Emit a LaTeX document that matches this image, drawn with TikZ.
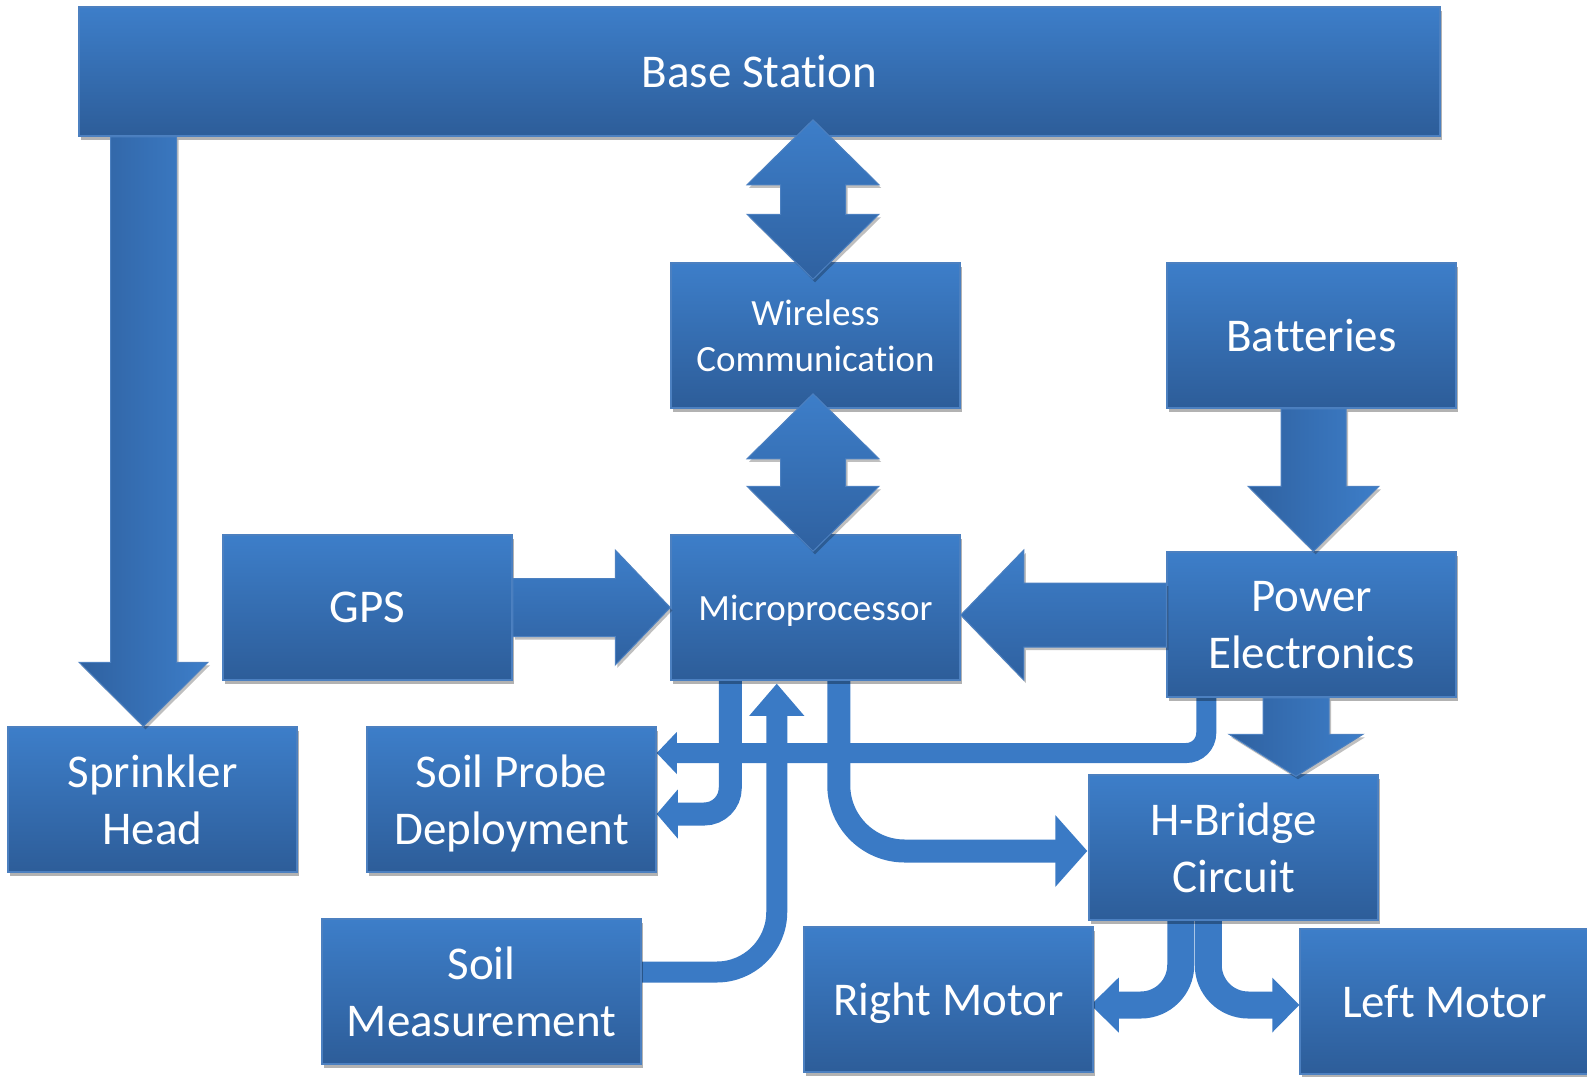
\documentclass[tikz,border=0pt]{standalone}
\usepackage{fontspec}
\setmainfont{Carlito}[Ligatures=NoCommon]
\usetikzlibrary{calc,shadows}
\pgfdeclarelayer{bg}
\pgfsetlayers{bg,main}
\definecolor{boxtop}{RGB}{61,126,201}
\definecolor{boxbot}{RGB}{45,93,153}
\definecolor{boxline}{RGB}{76,128,192}
\definecolor{arrlight}{RGB}{61,126,201}
\definecolor{arrdark}{RGB}{47,97,160}
\definecolor{bentc}{RGB}{58,122,197}
\tikzset{
  blk/.style={rectangle, draw=boxline, line width=1.5pt, top color=boxtop, bottom color=boxbot,
    text=white, align=center, inner sep=0pt, minimum width=289pt, minimum height=145pt,
    font=\fontsize{47}{57}\selectfont, text depth=0pt,
    drop shadow={shadow xshift=2pt, shadow yshift=-4pt, opacity=0.3, fill=black}},
  blksmall/.style={blk, font=\fontsize{37}{45.5}\selectfont},
  arrV/.style={draw=boxline, line width=1pt, left color=arrdark, right color=arrlight,
    drop shadow={shadow xshift=2pt, shadow yshift=-3pt, opacity=0.25, fill=black}},
  arrH/.style={draw=boxline, line width=1pt, top color=arrlight, bottom color=arrdark,
    drop shadow={shadow xshift=2pt, shadow yshift=-3pt, opacity=0.25, fill=black}},
  bent/.style={draw=bentc, line cap=butt},
}
% #1 style, #2 start, #3 tip, #4 half shaft, #5 half head, #6 head length
\newcommand\BlockArrow[6]{%
  \coordinate (BAh) at ($(#3)!#6!(#2)$);
  \path[#1] ($(#2)!#4!90:(#3)$) -- ($(BAh)!#4!90:(#3)$) -- ($(BAh)!#5!90:(#3)$) -- (#3)
    -- ($(BAh)!#5!-90:(#3)$) -- ($(BAh)!#4!-90:(#3)$) -- ($(#2)!#4!-90:(#3)$) -- cycle;}
% #1 style, #2 tip one, #3 tip two, #4 half shaft, #5 half head, #6 head length
\newcommand\DoubleArrow[6]{%
  \coordinate (DAa) at ($(#2)!#6!(#3)$);
  \coordinate (DAb) at ($(#3)!#6!(#2)$);
  \path[#1] (#2) -- ($(DAa)!#5!90:(#3)$) -- ($(DAa)!#4!90:(#3)$) -- ($(DAb)!#4!90:(#3)$)
    -- ($(DAb)!#5!90:(#3)$) -- (#3) -- ($(DAb)!#5!-90:(#3)$) -- ($(DAb)!#4!-90:(#3)$)
    -- ($(DAa)!#4!-90:(#3)$) -- ($(DAa)!#5!-90:(#3)$) -- cycle;}
% #1 tip, #2 head base centre, #3 half width
\newcommand\BentHead[3]{%
  \fill[bentc] ($(#2)!#3!90:(#1)$) -- (#1) -- ($(#2)!#3!-90:(#1)$) -- cycle;}
\begin{document}
\begin{tikzpicture}[x=1pt,y=-1pt]
\useasboundingbox (0,0) rectangle (1587,1076);
% boxes
\node[blk, minimum width=1361pt, minimum height=129pt] (base) at (759.5,71.5) {Base Station};
\node[blk] (sprinkler) at (152.5,799.5) {Sprinkler\\Head};
\node[blksmall] (wireless) at (815.5,335.5) {Wireless\\Communication};
\node[blk] (batteries) at (1311.5,335.5) {Batteries};
\node[blk] (gps) at (367.5,607.5) {GPS};
\node[blksmall] (micro) at (815.5,607.5) {Microprocessor};
\node[blk] (power) at (1311.5,624.5) {Power\\Electronics};
\node[blk] (soilprobe) at (511.5,799.5) {Soil Probe\\Deployment};
\node[blk] (hbridge) at (1233.5,847.5) {H-Bridge\\Circuit};
\node[blk, minimum width=319pt] (soilmeas) at (481.5,991.5) {Soil\\Measurement};
\node[blk] (rightmotor) at (948.5,999.5) {Right Motor};
\node[blk] (leftmotor) at (1444.5,1001.5) {Left Motor};
% block arrows
\coordinate (a1t) at ($(sprinkler.north)+(-9,0)$);
\coordinate (a1s) at (a1t |- base.south);
\BlockArrow{arrV}{a1s}{a1t}{33pt}{64.5pt}{64pt}
\coordinate (a2a) at ($(wireless.north |- base.south)+(-2.5,-17)$);
\coordinate (a2b) at ($(wireless.north)+(-2.5,17)$);
\DoubleArrow{arrH}{a2a}{a2b}{32.5pt}{66pt}{65pt}
\coordinate (a3a) at ($(wireless.south)+(-2.5,-15)$);
\coordinate (a3b) at ($(micro.north)+(-2.5,17)$);
\DoubleArrow{arrH}{a3a}{a3b}{32.5pt}{66pt}{65pt}
\BlockArrow{arrH}{gps.east}{micro.west}{29pt}{57.5pt}{55pt}
\coordinate (a5t) at ($(micro.east)+(0,7.5)$);
\coordinate (a5s) at (power.west |- a5t);
\BlockArrow{arrH}{a5s}{a5t}{32pt}{65pt}{63pt}
\coordinate (a6t) at ($(power.north)+(2,0)$);
\coordinate (a6s) at (a6t |- batteries.south);
\BlockArrow{arrV}{a6s}{a6t}{32.5pt}{65.5pt}{65pt}
\coordinate (a7t) at ($(hbridge.north)+(62.5,2)$);
\coordinate (a7s) at (a7t |- power.south);
\BlockArrow{arrV}{a7s}{a7t}{33pt}{67pt}{42pt}
% bent arrows behind the boxes
\begin{pgfonlayer}{bg}
\coordinate (b2s) at ($(micro.south west)+(60,-5)$);
\coordinate (b2t) at ($(soilprobe.east)+(0,14.5)$);
\coordinate (b2h) at ($(b2t)+(21,0)$);
\draw[bent, line width=23pt, rounded corners=26pt] (b2s) |- ($(b2h)+(-1,0)$);
\BentHead{b2t}{b2h}{24.5pt}
\coordinate (b3s) at ($(soilmeas.east)+(-5,-19.5)$);
\coordinate (b3t) at ($(micro.south west)+(106.5,3)$);
\coordinate (b3h) at ($(b3t)+(0,32)$);
\draw[bent, line width=21pt, rounded corners=60pt] (b3s) -| ($(b3h)+(0,-1)$);
\BentHead{b3t}{b3h}{27.5pt}
\coordinate (b4s) at ($(micro.south west)+(168.5,-5)$);
\coordinate (b4t) at ($(hbridge.west)+(-1,3.5)$);
\coordinate (b4h) at ($(b4t)+(-32,0)$);
\draw[bent, line width=23pt, rounded corners=66pt] (b4s) |- ($(b4h)+(1,0)$);
\BentHead{b4t}{b4h}{36pt}
\coordinate (b1s) at ($(power.south west)+(40,-5)$);
\coordinate (b1t) at ($(soilprobe.east)+(0,-46.5)$);
\coordinate (b1h) at ($(b1t)+(20,0)$);
\draw[bent, line width=20pt, rounded corners=20pt] (b1s) |- ($(b1h)+(-1,0)$);
\BentHead{b1t}{b1h}{21pt}
\coordinate (b5s) at ($(hbridge.south west)+(92.5,-5)$);
\coordinate (b5t) at ($(rightmotor.east)+(-3,5.5)$);
\coordinate (b5h) at ($(b5t)+(28,0)$);
\draw[bent, line width=27pt, rounded corners=40pt] (b5s) |- ($(b5h)+(-1,0)$);
\BentHead{b5t}{b5h}{27.5pt}
\coordinate (b6s) at ($(hbridge.south west)+(120,-5)$);
\coordinate (b6t) at ($(leftmotor.west)+(0,3.5)$);
\coordinate (b6h) at ($(b6t)+(-27,0)$);
\draw[bent, line width=27pt, rounded corners=40pt] (b6s) |- ($(b6h)+(1,0)$);
\BentHead{b6t}{b6h}{27.5pt}
\end{pgfonlayer}
\end{tikzpicture}
\end{document}
